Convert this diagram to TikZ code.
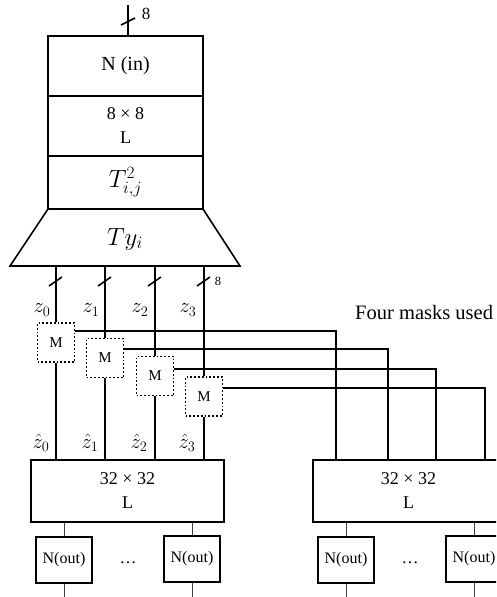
\documentclass[tikz,border=0pt]{standalone}
\usepackage{fontspec}
\setmainfont{Liberation Serif}
\usetikzlibrary{calc}
\begin{document}
\begin{tikzpicture}[x=1pt,y=-1pt,
  blk/.style={draw, line width=1.6pt, inner sep=0pt, align=center, font=\fontsize{20}{24}\selectfont},
  mask/.style={draw, dotted, line width=1.8pt, minimum width=37pt, minimum height=39pt, inner sep=0pt, font=\fontsize{15}{16}\selectfont},
  outbox/.style={draw, line width=1.6pt, minimum width=56pt, minimum height=46pt, inner sep=0pt, font=\fontsize{16}{18}\selectfont},
  wire/.style={line width=1.6pt},
  thinw/.style={line width=0.9pt, black!75},
  lab/.style={inner sep=0pt, font=\fontsize{22}{24}\selectfont},
  txt/.style={inner sep=0pt, font=\fontsize{20.5}{22}\selectfont},
  smlab/.style={inner sep=0pt, font=\fontsize{17}{18}\selectfont},
  tinylab/.style={inner sep=0pt, font=\fontsize{12.5}{14}\selectfont}
]
\useasboundingbox (0,0) rectangle (496,597);
\clip (0,0) rectangle (496,597);

% top stack
\node[blk, minimum width=155pt, minimum height=60pt] (nin) at (125.5,66) {N (in)};
\node[blk, minimum width=155pt, minimum height=60pt, font=\fontsize{18}{24}\selectfont] (l8) at (125.5,126) {8 × 8\\L};
\node[blk, minimum width=155pt, minimum height=53pt, font=\fontsize{23}{24}\selectfont] (tij) at (125.5,182.5) {$T^2_{i,j}$};
% trapezoid
\coordinate (tpl) at (48,209);
\coordinate (tpr) at (203,209);
\coordinate (tbl) at (10,266);
\coordinate (tbr) at (240,266);
\draw[line width=1.6pt, line join=miter] (tpl) -- (tpr) -- (tbr) -- (tbl) -- cycle;
\node[lab, font=\fontsize{23}{24}\selectfont] (ty) at (125,239) {$Ty_i$};

% top input
\coordinate (tin) at (128,5);
\draw[wire] (tin) -- (nin.north -| tin);
\draw[wire] (121,25) -- (135,18);
\node[smlab] (e8a) at (146,14) {8};

% masks
\node[mask] (m0) at (56,342.5) {M};
\node[mask] (m1) at (105,358) {M};
\node[mask] (m2) at (155,376) {M};
\node[mask] (m3) at (204,396.5) {M};

% z wires
\foreach \m/\x in {m0/56,m1/105,m2/155,m3/204}{
  \draw[wire] (\x,266) -- (\m.north);
  \draw[wire] (\x-7,286) -- (\x+6,277);
}
\node[tinylab] (e8b) at (218,281) {8};

\node[lab] (z0) at (42,310) {$z_0$};
\node[lab] (z1) at (91,310) {$z_1$};
\node[lab] (z2) at (140,310) {$z_2$};
\node[lab] (z3) at (188,310) {$z_3$};

% L boxes
\node[blk, minimum width=193pt, minimum height=62pt, font=\fontsize{18}{24}\selectfont] (ll) at (127.5,491) {32 × 32\\L};
\node[blk, minimum width=191pt, minimum height=62pt, font=\fontsize{18}{24}\selectfont] (rl) at (408.5,491) {32 × 32\\L};

% hat z wires
\foreach \m in {m0,m1,m2,m3}{
  \draw[wire] (\m.south) -- (ll.north -| \m.south);
}
\node[lab] (h0) at (41,443) {$\hat{z}_0$};
\node[lab] (h1) at (90,443) {$\hat{z}_1$};
\node[lab] (h2) at (139,443) {$\hat{z}_2$};
\node[lab] (h3) at (187,443) {$\hat{z}_3$};

% mask lines to right L
\coordinate (r0) at (336,460);
\coordinate (r1) at (388,460);
\coordinate (r2) at (436,460);
\coordinate (r3) at (485,460);
\draw[wire] (m0.east |- 0,331) -| (r0);
\draw[wire] (m1.east |- 0,349) -| (r1);
\draw[wire] (m2.east |- 0,369) -| (r2);
\draw[wire] (m3.east |- 0,388) -| (r3);

\node[txt, anchor=west] (four) at (355,312) {Four masks used};

% output boxes
\node[outbox] (o1) at (64,560) {N(out)};
\node[outbox] (o2) at (192,559) {N(out)};
\node[outbox] (o3) at (346,560) {N(out)};
\node[outbox] (o4) at (474,559) {N(out)};
\foreach \o in {o1,o2}{
  \draw[thinw] (ll.south -| \o.north) -- (\o.north);
}
\foreach \o in {o3,o4}{
  \draw[thinw] (rl.south -| \o.north) -- (\o.north);
}
\foreach \o in {o1,o2,o3,o4}{
  \draw[thinw] (\o.south) -- ++(0,20);
}
\node[smlab] (d1) at (128,563) {\dots};
\node[smlab] (d2) at (410,563) {\dots};
\end{tikzpicture}
\end{document}
